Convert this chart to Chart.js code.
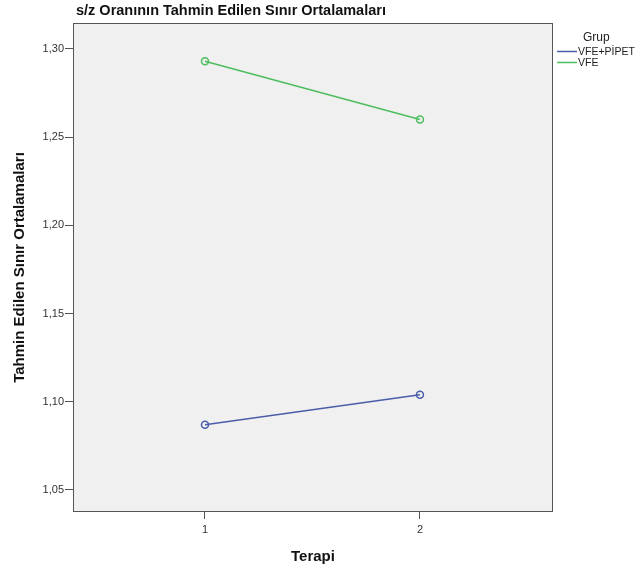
<!DOCTYPE html>
<html>
<head>
<meta charset="utf-8">
<script src="https://cdn.jsdelivr.net/npm/chart.js@4"></script>
<style>
  html, body { margin: 0; padding: 0; background: #fff; }
  #wrap { width: 641px; height: 573px; }
</style>
</head>
<body>
<div id="wrap"><canvas id="c" width="641" height="573"></canvas></div>
<script>
'use strict';

// --- veri ---
const terapi = [1, 2];
const grupAdlari = ['VFE+PİPET', 'VFE'];
const vfePipet = [1.087, 1.104];
const vfe = [1.293, 1.260];
const yTicks = [1.05, 1.10, 1.15, 1.20, 1.25, 1.30];
const xTicks = [1, 2];

const renkler = ['#4A5DAA', '#4DBD5E'];
const FONT = 'Arial, "Liberation Sans", sans-serif';
const fmt = v => v.toFixed(2).replace('.', ',');

// arka plan, cerceve, baslik, lejant
const spssPlugin = {
  id: 'spss',
  beforeDraw(chart) {
    const { ctx, chartArea: a } = chart;
    ctx.save();
    ctx.fillStyle = '#F0F0F0';
    ctx.fillRect(a.left, a.top, a.right - a.left, a.bottom - a.top);
    ctx.restore();
  },
  afterDraw(chart) {
    const { ctx, chartArea: a } = chart;
    ctx.save();
    ctx.strokeStyle = '#555';
    ctx.lineWidth = 1;
    ctx.strokeRect(a.left + 0.5, a.top + 0.5, a.right - a.left - 1, a.bottom - a.top - 1);

    ctx.fillStyle = '#111';
    ctx.font = 'bold 14.5px ' + FONT;
    ctx.textBaseline = 'middle';
    ctx.textAlign = 'left';
    ctx.fillText('s/z Oranının Tahmin Edilen Sınır Ortalamaları', 76, 11);

    // lejant
    ctx.fillStyle = '#222';
    ctx.font = '12px ' + FONT;
    ctx.fillText('Grup', 583, 38);
    ctx.font = '10.5px ' + FONT;
    chart.data.datasets.forEach((ds, i) => {
      const y = 51 + i * 11;
      ctx.strokeStyle = ds.borderColor;
      ctx.lineWidth = 1.5;
      ctx.beginPath();
      ctx.moveTo(557, y + 0.5);
      ctx.lineTo(577, y + 0.5);
      ctx.stroke();
      ctx.fillStyle = '#222';
      ctx.fillText(ds.label, 578, y + 1);
    });
    ctx.restore();
  }
};

const dataset = (label, data, color) => ({
  label,
  data: terapi.map((x, i) => ({ x, y: data[i] })),
  borderColor: color,
  backgroundColor: 'transparent',
  borderWidth: 1.5,
  pointRadius: 3.5,
  pointBorderWidth: 1.5,
  pointBackgroundColor: 'transparent',
  pointBorderColor: color,
  tension: 0
});

new Chart(document.getElementById('c'), {
  type: 'line',
  data: {
    datasets: [
      dataset(grupAdlari[0], vfePipet, renkler[0]),
      dataset(grupAdlari[1], vfe, renkler[1])
    ]
  },
  options: {
    responsive: false,
    animation: false,
    layout: { padding: { left: 0, top: 23, right: 88, bottom: 0 } },
    plugins: { legend: { display: false }, tooltip: { enabled: false } },
    scales: {
      x: {
        type: 'linear',
        min: 0.386,
        max: 2.619,
        afterBuildTicks: s => { s.ticks = xTicks.map(v => ({ value: v })); },
        afterFit: s => { s.height = 61; },
        grid: { drawOnChartArea: false, drawTicks: true, tickLength: 7, color: '#555' },
        border: { display: false },
        ticks: {
          color: '#333',
          font: { family: FONT, size: 11 },
          padding: 4,
          callback: v => String(v)
        },
        title: {
          display: true,
          text: 'Terapi',
          color: '#111',
          font: { family: FONT, size: 15, weight: 'bold' },
          padding: { top: 0, bottom: 7 }
        }
      },
      y: {
        min: 1.0375,
        max: 1.3147,
        afterBuildTicks: s => { s.ticks = yTicks.map(v => ({ value: v })); },
        afterFit: s => { s.width = 73; },
        grid: { drawOnChartArea: false, drawTicks: true, tickLength: 8, color: '#555' },
        border: { display: false },
        ticks: {
          color: '#333',
          font: { family: FONT, size: 11 },
          padding: 1,
          callback: v => fmt(v)
        },
        title: {
          display: true,
          text: 'Tahmin Edilen Sınır Ortalamaları',
          color: '#111',
          font: { family: FONT, size: 15, weight: 'bold' },
          padding: { top: 11, bottom: 0 }
        }
      }
    }
  },
  plugins: [spssPlugin]
});
</script>
</body>
</html>
